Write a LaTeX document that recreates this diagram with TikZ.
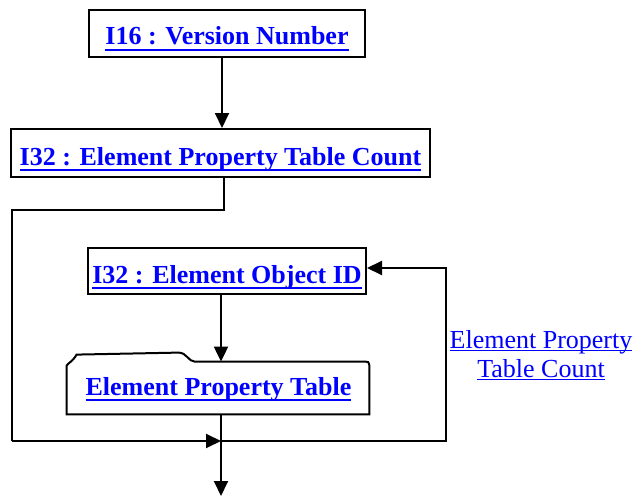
\documentclass[tikz,border=0pt]{standalone}
\usepackage{fontspec}
\setmainfont{Liberation Serif}
\usetikzlibrary{arrows.meta}

\definecolor{linkblue}{RGB}{0,0,255}

% underline drawn as a rule: #1 text, #2 depth of rule bottom, #3 thickness
\newlength\ulwd
\newcommand{\ulinetext}[3]{\settowidth{\ulwd}{#1}\leavevmode\rlap{\rule[-#2]{\ulwd}{#3}}#1}
% bold, underlined field link
\newcommand{\fieldlink}[1]{{\bfseries\color{linkblue}\ulinetext{#1}{2.75pt}{1pt}}}
% plain, underlined link
\newcommand{\plainlink}[1]{{\color{linkblue}\ulinetext{#1}{1.6pt}{0.6pt}}}

\tikzset{
  fieldbox/.style={draw, line width=1pt, inner sep=0pt, fill=white,
    font=\fontsize{13}{15}\selectfont},
  wire/.style={line width=1pt},
  arr/.style={wire, -{Triangle[length=7.5pt,width=7pt]}},
}

\begin{document}
\begin{tikzpicture}[x=0.5pt, y=-0.5pt]
  \useasboundingbox (0,0) rectangle (633,498);

  % fields
  \node[fieldbox, minimum width=138pt, text height=17.5pt, text depth=6pt] (ver) at (227,33.5)
    {\fieldlink{I16 : Version Number}};
  \node[fieldbox, minimum width=209.5pt, text height=18pt, text depth=6pt] (cnt) at (220.5,153)
    {\fieldlink{I32 : Element Property Table Count}};
  \node[fieldbox, minimum width=139pt, text height=17.5pt, text depth=5.5pt] (oid) at (227,271)
    {\fieldlink{I32 : Element Object ID}};

  % table (tab-shaped box)
  \node[inner sep=0pt, minimum width=151pt, minimum height=26pt] (tbl) at (218,388) {};
  \draw[line width=1pt, fill=white]
    (tbl.south west) -- ([yshift=-2pt]tbl.north west)
    .. controls ([xshift=1pt,yshift=-0.5pt]tbl.north west) and ([xshift=3pt]tbl.north west) ..
       ([xshift=5pt,yshift=3.5pt]tbl.north west)
    -- ([xshift=56pt,yshift=4.5pt]tbl.north west)
    .. controls ([xshift=60pt,yshift=4.5pt]tbl.north west) and ([xshift=61pt]tbl.north west) ..
       ([xshift=64pt]tbl.north west)
    -- ([xshift=-2pt]tbl.north east)
    .. controls ([xshift=-0.5pt]tbl.north east) .. ([yshift=-2pt]tbl.north east)
    -- (tbl.south east) -- cycle;
  \node[font=\fontsize{13}{15}\selectfont, anchor=base, inner sep=0pt] (tbltext) at (218.5,395)
    {\fieldlink{Element Property Table}};

  % routing points
  \coordinate (c1) at (222,0);
  \coordinate (c2) at (224,0);
  \coordinate (c3) at (221,0);
  \coordinate (down) at (224,210);
  \coordinate (left) at (12,210);
  \coordinate (lbot) at (12,441);
  \coordinate (j) at (221,441);
  \coordinate (rbot) at (446,441);
  \coordinate (rtop) at (446,268);
  \coordinate (end) at (221,496);

  % connectors
  \draw[arr] (ver.south -| c1) -- (cnt.north -| c1);
  \draw[wire] (cnt.south -| c2) -- (down) -- (left) -- (lbot);
  \draw[arr] (lbot) -- (j);
  \draw[arr] (oid.south -| c3) -- (tbl.north -| c3);
  \draw[arr] (tbl.south -| c3) -- (end);
  \draw[arr] (j) -- (rbot) -- (rtop) -- (rtop -| oid.east);

  % loop label (base anchor sits on the last line)
  \node[align=center, anchor=base, inner sep=0pt, font=\fontsize{13}{14.5}\selectfont] (lbl) at (541,377)
    {\plainlink{Element Property}\\\plainlink{Table Count}};
\end{tikzpicture}
\end{document}
